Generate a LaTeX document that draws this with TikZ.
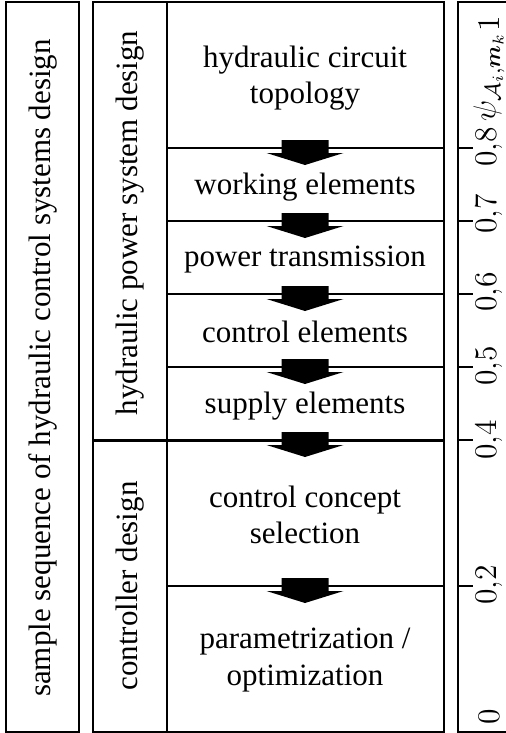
\documentclass[tikz,border=0pt]{standalone}
\usepackage{fix-cm}
\usepackage{amsmath}
\usepackage[no-math]{fontspec}
\setmainfont{Liberation Serif}
\begin{document}
\begin{tikzpicture}[x=0.4pt,y=-0.4pt,
  txt/.style={font=\fontsize{12.4}{14.6}\selectfont, align=center, inner sep=0pt},
  axlab/.style={font=\fontsize{12.6}{15}\selectfont, inner sep=0pt, rotate=90},
  box/.style={draw, line width=0.5pt},
  sep/.style={line width=0.5pt},
  thicksep/.style={line width=1.2pt},
  downarrow/.pic={\fill[black] (-23.5,-8) -- (23.5,-8) -- (23.5,5) -- (38.5,5) -- (0,17) -- (-38.5,5) -- (-23.5,5) -- cycle;}]
\useasboundingbox (0,0) rectangle (506,733);
% frames
\draw[box] (6,2) rectangle (79,732);
\draw[box] (93,2) rectangle (444,732);
\draw[sep] (167,2) -- (167,732);
\foreach \y in {148,221,294,367,586} \draw[sep] (167,\y) -- (444,\y);
\draw[thicksep] (93,440) -- (444,440);
% axis frame
\draw[box] (506,2) -- (458,2) -- (458,732) -- (506,732);
\foreach \y in {148,221,294,367,440,586} \draw[sep] (458,\y) -- (473,\y);
% arrows
\foreach \y/\n in {148/a1,221/a2,294/a3,367/a4,440/a5,586/a6} {
  \coordinate (\n) at (305,\y);
  \pic at (\n) {downarrow};
}
% stage texts
\node[txt] (t1) at (305,78) {hydraulic circuit\\topology};
\node[txt] (t2) at (305,187) {working elements};
\node[txt] (t3) at (305,260) {power transmission};
\node[txt] (t4) at (305,332) {control elements};
\node[txt] (t5) at (305,406) {supply elements};
\node[txt] (t6) at (305,515) {control concept\\selection};
\node[txt] (t7) at (305,660) {parametrization /\\optimization};
% side labels
\node[txt, rotate=90] (s) at (42.5,368) {sample sequence of hydraulic control systems design};
\node[txt, rotate=90] (h) at (130,223) {hydraulic power system design};
\node[txt, rotate=90] (c) at (130,586) {controller design};
% axis labels
\node[axlab] (l0) at (489,717) {$0$};
\node[axlab] (l2) at (489,585) {$0{,}2$};
\node[axlab] (l4) at (489,440) {$0{,}4$};
\node[axlab] (l5) at (489,366) {$0{,}5$};
\node[axlab] (l6) at (489,292) {$0{,}6$};
\node[axlab] (l7) at (489,214) {$0{,}7$};
\node[axlab] (l8) at (489,147) {$0{,}8$};
\node[axlab] (lpsi) at (489,77) {$\psi_{\mathcal{A}_i,\boldsymbol{m}_k}$};
\node[axlab] (l1) at (489,24) {$1$};
\end{tikzpicture}
\end{document}
